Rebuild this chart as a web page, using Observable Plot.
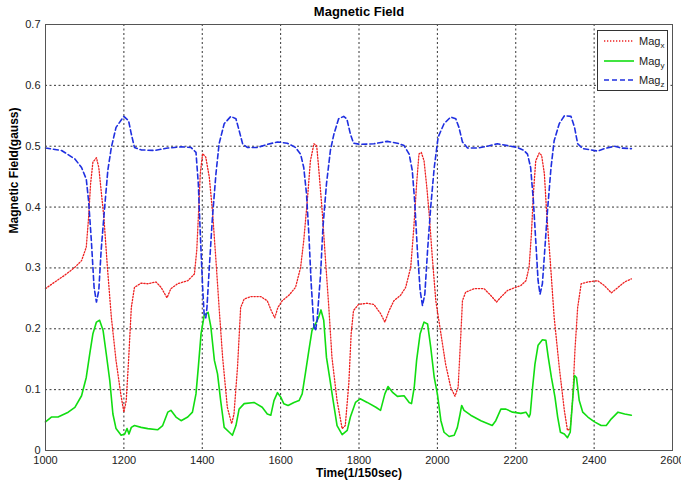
<!DOCTYPE html>
<html>
<head>
<meta charset="utf-8">
<script src="https://cdn.jsdelivr.net/npm/d3@7"></script>
<script src="https://cdn.jsdelivr.net/npm/@observablehq/plot@0.6"></script>
<style>
  html, body { margin: 0; padding: 0; background: #fff; }
  #wrap { position: relative; width: 681px; height: 483px; }
  #legend { position: absolute; left: 597px; top: 30px; width: 69px; height: 59px;
    border: 1px solid #333; background: #fff; font-family: "Liberation Sans", Arial, sans-serif;
    font-size: 11px; color: #222; }
  #legend .row { position: absolute; left: 0; height: 14px; }
  #legend svg { position: absolute; left: 5px; top: 0; }
  #legend span { position: absolute; left: 41px; top: 0; line-height: 14px; white-space: nowrap; }
  #legend sub { font-size: 8px; vertical-align: -3px; line-height: 0; }
</style>
</head>
<body>
<div id="wrap"></div>
<script>
const title = "Magnetic Field";
const xLabel = "Time(1/150sec)";
const yLabel = "Magnetic Field(gauss)";
const xTicks = [1000, 1200, 1400, 1600, 1800, 2000, 2200, 2400, 2600];
const yTicks = [0, 0.1, 0.2, 0.3, 0.4, 0.5, 0.6, 0.7];
const seriesNames = ["x", "y", "z"];
const seriesColors = ["#ee2222", "#11dd11", "#1f2fe0"];

// [time, gauss]
const magX = [[1000,0.266],[1024,0.277],[1049,0.288],[1075,0.301],[1092,0.312],[1104,0.334],[1110,0.383],[1115,0.438],[1121,0.474],[1130,0.481],[1136,0.465],[1142,0.427],[1149,0.383],[1158,0.301],[1168,0.219],[1180,0.148],[1192,0.093],[1200,0.063],[1206,0.082],[1212,0.148],[1219,0.235],[1227,0.268],[1244,0.275],[1261,0.274],[1282,0.277],[1295,0.268],[1310,0.251],[1320,0.266],[1337,0.274],[1363,0.279],[1380,0.29],[1386,0.329],[1390,0.383],[1395,0.455],[1401,0.488],[1409,0.482],[1418,0.449],[1426,0.394],[1435,0.312],[1443,0.235],[1452,0.153],[1464,0.071],[1475,0.044],[1481,0.06],[1490,0.137],[1498,0.235],[1507,0.249],[1524,0.253],[1549,0.253],[1566,0.246],[1576,0.23],[1585,0.218],[1593,0.235],[1604,0.246],[1621,0.255],[1638,0.268],[1651,0.301],[1659,0.345],[1668,0.41],[1676,0.476],[1685,0.504],[1692,0.501],[1697,0.465],[1706,0.394],[1714,0.318],[1723,0.235],[1731,0.153],[1744,0.082],[1757,0.036],[1765,0.041],[1774,0.11],[1780,0.192],[1786,0.23],[1799,0.24],[1820,0.242],[1838,0.24],[1855,0.225],[1866,0.211],[1877,0.23],[1889,0.246],[1906,0.255],[1919,0.268],[1932,0.301],[1940,0.367],[1947,0.438],[1953,0.487],[1959,0.49],[1966,0.476],[1973,0.433],[1979,0.389],[1987,0.318],[1996,0.246],[2009,0.192],[2021,0.142],[2034,0.104],[2045,0.089],[2053,0.104],[2060,0.192],[2064,0.246],[2072,0.26],[2094,0.266],[2119,0.266],[2136,0.255],[2151,0.244],[2162,0.252],[2179,0.263],[2200,0.268],[2213,0.271],[2226,0.279],[2234,0.301],[2240,0.356],[2245,0.422],[2251,0.476],[2260,0.489],[2266,0.485],[2273,0.455],[2279,0.389],[2288,0.312],[2298,0.219],[2311,0.137],[2324,0.066],[2332,0.033],[2339,0.036],[2345,0.082],[2351,0.164],[2358,0.235],[2367,0.274],[2384,0.277],[2409,0.279],[2426,0.271],[2444,0.259],[2461,0.268],[2478,0.277],[2495,0.282]];

const magY = [[1000,0.047],[1015,0.055],[1032,0.055],[1058,0.063],[1075,0.071],[1092,0.09],[1104,0.12],[1113,0.159],[1121,0.192],[1130,0.211],[1138,0.214],[1147,0.197],[1155,0.159],[1164,0.115],[1172,0.06],[1180,0.036],[1193,0.025],[1202,0.027],[1208,0.036],[1213,0.027],[1219,0.038],[1227,0.041],[1244,0.038],[1261,0.036],[1286,0.034],[1299,0.041],[1312,0.063],[1320,0.066],[1333,0.055],[1346,0.049],[1363,0.055],[1375,0.063],[1384,0.093],[1390,0.137],[1397,0.192],[1405,0.222],[1415,0.227],[1422,0.203],[1431,0.148],[1439,0.126],[1447,0.082],[1456,0.038],[1469,0.03],[1477,0.025],[1486,0.041],[1494,0.068],[1507,0.077],[1532,0.079],[1553,0.071],[1566,0.06],[1575,0.058],[1583,0.082],[1592,0.095],[1600,0.088],[1608,0.077],[1619,0.074],[1634,0.079],[1647,0.082],[1655,0.093],[1663,0.126],[1672,0.164],[1680,0.197],[1689,0.208],[1697,0.219],[1703,0.231],[1710,0.214],[1717,0.153],[1725,0.12],[1734,0.082],[1744,0.041],[1757,0.026],[1770,0.033],[1778,0.055],[1791,0.079],[1803,0.085],[1821,0.079],[1843,0.071],[1855,0.066],[1866,0.093],[1874,0.105],[1885,0.096],[1898,0.089],[1915,0.09],[1928,0.079],[1934,0.077],[1941,0.104],[1947,0.148],[1956,0.192],[1966,0.211],[1975,0.208],[1983,0.17],[1992,0.12],[2000,0.093],[2009,0.049],[2017,0.03],[2030,0.023],[2043,0.025],[2051,0.038],[2058,0.06],[2062,0.074],[2068,0.066],[2085,0.058],[2111,0.049],[2140,0.041],[2149,0.049],[2162,0.068],[2175,0.068],[2192,0.063],[2213,0.061],[2226,0.063],[2234,0.055],[2237,0.06],[2243,0.104],[2249,0.142],[2257,0.173],[2268,0.182],[2277,0.181],[2283,0.153],[2291,0.12],[2300,0.088],[2307,0.055],[2314,0.03],[2324,0.027],[2332,0.021],[2339,0.03],[2345,0.082],[2350,0.123],[2355,0.12],[2362,0.082],[2371,0.063],[2384,0.055],[2401,0.047],[2418,0.041],[2431,0.041],[2444,0.052],[2461,0.063],[2478,0.06],[2495,0.058]];

const magZ = [[1000,0.497],[1041,0.493],[1075,0.479],[1092,0.465],[1104,0.446],[1110,0.41],[1117,0.345],[1124,0.268],[1130,0.244],[1136,0.263],[1142,0.329],[1151,0.40],[1159,0.46],[1168,0.498],[1180,0.531],[1200,0.549],[1212,0.542],[1219,0.52],[1227,0.498],[1244,0.494],[1278,0.493],[1312,0.497],[1346,0.499],[1371,0.498],[1384,0.49],[1390,0.438],[1395,0.356],[1401,0.268],[1405,0.222],[1409,0.218],[1412,0.235],[1418,0.301],[1426,0.383],[1435,0.455],[1443,0.504],[1456,0.537],[1473,0.549],[1486,0.545],[1494,0.526],[1503,0.504],[1515,0.498],[1541,0.498],[1566,0.503],[1592,0.507],[1617,0.505],[1638,0.498],[1651,0.487],[1659,0.465],[1666,0.422],[1672,0.356],[1678,0.274],[1685,0.203],[1689,0.197],[1693,0.214],[1702,0.29],[1708,0.367],[1717,0.438],[1727,0.493],[1736,0.52],[1748,0.545],[1761,0.549],[1769,0.545],[1778,0.52],[1786,0.505],[1803,0.503],[1838,0.504],[1872,0.508],[1898,0.505],[1915,0.501],[1928,0.487],[1936,0.46],[1942,0.41],[1949,0.329],[1956,0.263],[1962,0.238],[1968,0.257],[1975,0.329],[1983,0.40],[1992,0.465],[2002,0.515],[2017,0.537],[2034,0.548],[2047,0.545],[2055,0.531],[2064,0.507],[2077,0.497],[2102,0.497],[2128,0.5],[2153,0.504],[2179,0.501],[2204,0.498],[2221,0.493],[2230,0.487],[2238,0.465],[2245,0.41],[2251,0.345],[2257,0.279],[2262,0.257],[2268,0.274],[2274,0.329],[2281,0.394],[2290,0.465],[2298,0.509],[2311,0.537],[2324,0.55],[2341,0.549],[2350,0.531],[2358,0.504],[2371,0.496],[2392,0.494],[2409,0.492],[2426,0.496],[2452,0.5],[2469,0.497],[2495,0.496]];

const font = "'Liberation Sans', Arial, sans-serif";
const lineStyles = [
  {stroke: seriesColors[0], strokeWidth: 1.3, strokeDasharray: "1.3,1.7"},
  {stroke: seriesColors[1], strokeWidth: 1.6},
  {stroke: seriesColors[2], strokeWidth: 1.6, strokeDasharray: "5,3"}
];

const chart = Plot.plot({
  width: 681, height: 483,
  marginLeft: 45, marginRight: 9, marginTop: 24, marginBottom: 33,
  style: {fontFamily: font, fontSize: "11px", color: "#222", background: "#fff", overflow: "visible"},
  x: {domain: [1000, 2600]},
  y: {domain: [0, 0.7]},
  marks: [
    Plot.gridX(xTicks, {stroke: "#000", strokeOpacity: 0.8, strokeDasharray: "2,2.5"}),
    Plot.gridY(yTicks, {stroke: "#000", strokeOpacity: 0.8, strokeDasharray: "2,2.5"}),
    Plot.axisX(xTicks, {tickSize: 0, tickPadding: 6, label: null, tickFormat: d => String(d)}),
    Plot.axisY(yTicks, {tickSize: 0, tickPadding: 5, label: null, tickFormat: d => d === 0 ? "0" : String(d)}),
    Plot.line(magX, {x: d => d[0], y: d => d[1], ...lineStyles[0]}),
    Plot.line(magY, {x: d => d[0], y: d => d[1], ...lineStyles[1]}),
    Plot.line(magZ, {x: d => d[0], y: d => d[1], ...lineStyles[2]}),
    Plot.frame({stroke: "#555", strokeWidth: 1}),
    Plot.text([title], {frameAnchor: "top", lineAnchor: "middle", dy: -13, fontWeight: "bold", fontSize: 13, fill: "#000"}),
    Plot.text([xLabel], {frameAnchor: "bottom", lineAnchor: "middle", dy: 23, fontWeight: "bold", fontSize: 12, fill: "#000"}),
    Plot.text([yLabel], {frameAnchor: "left", lineAnchor: "middle", rotate: -90, dx: -31, dy: -4, fontWeight: "bold", fontSize: 12, fill: "#000"})
  ]
});

const wrap = document.getElementById("wrap");
wrap.appendChild(chart);

// Legend
const legend = document.createElement("div");
legend.id = "legend";
const rowTops = [3, 23, 42];
seriesNames.forEach((n, i) => {
  const row = document.createElement("div");
  row.className = "row";
  row.style.top = rowTops[i] + "px";
  row.style.width = "69px";
  const s = lineStyles[i];
  row.innerHTML = `<svg width="32" height="14"><line x1="1" x2="31" y1="7" y2="7" stroke="${s.stroke}" stroke-width="${s.strokeWidth}" ${s.strokeDasharray ? `stroke-dasharray="${s.strokeDasharray}"` : ""}/></svg><span>Mag<sub>${n}</sub></span>`;
  legend.appendChild(row);
});
wrap.appendChild(legend);
</script>
</body>
</html>
